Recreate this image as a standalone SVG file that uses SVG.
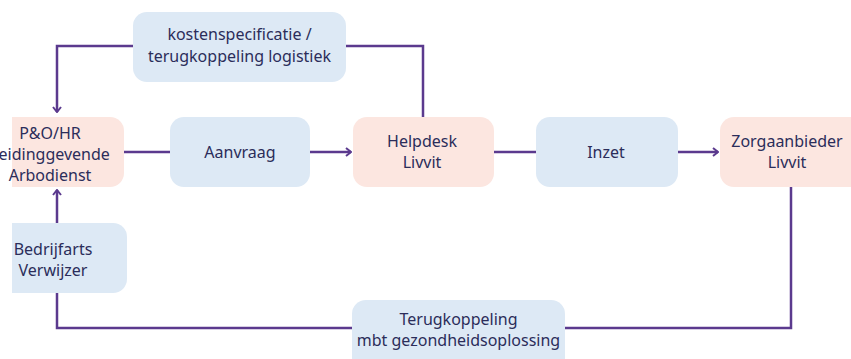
<svg xmlns="http://www.w3.org/2000/svg" width="851" height="359" viewBox="0 0 851 359">
<defs>
<style>
.blue{fill:#dde9f5}
.peach{fill:#fce6e0}
.t{font-family:"Noto Sans","Open Sans",sans-serif;font-size:16px;fill:#2b2d5a;text-anchor:middle}
.c{fill:none;stroke:#5b3a8e;stroke-width:2.5}
</style>
<marker id="ah" viewBox="0 0 10 10" refX="9" refY="5" markerWidth="10" markerHeight="10" markerUnits="userSpaceOnUse" orient="auto">
<path d="M4,1 L9,5 L4,9" fill="none" stroke="#5b3a8e" stroke-width="2"/>
</marker>
</defs>
<rect width="851" height="359" fill="#ffffff"/>
<g id="connectors">
<path class="c" d="M133,46 H57 V112" marker-end="url(#ah)"/>
<path class="c" d="M346,46 H423 V117"/>
<path class="c" d="M124,152 H170"/>
<path class="c" d="M310,152 H351" marker-end="url(#ah)"/>
<path class="c" d="M494,152 H536"/>
<path class="c" d="M678,152 H718" marker-end="url(#ah)"/>
<path class="c" d="M57,223 V190" marker-end="url(#ah)"/>
<path class="c" d="M57,293 V328 H353"/>
<path class="c" d="M565,328 H791 V187"/>
</g>
<g id="kosten">
<rect class="blue" x="133" y="12" width="213" height="70" rx="14"/>
<text class="t" x="239.5" y="40">kostenspecificatie /</text>
<text class="t" x="239.5" y="62">terugkoppeling logistiek</text>
</g>
<g id="po-hr">
<path class="peach" d="M12,117 H110 A14,14 0 0 1 124,131 V173 A14,14 0 0 1 110,187 H12 Z"/>
<text class="t" x="50" y="139">P&amp;O/HR</text>
<text class="t" x="50" y="160">Leidinggevende</text>
<text class="t" x="50" y="181">Arbodienst</text>
</g>
<g id="aanvraag">
<rect class="blue" x="170" y="117" width="140" height="70" rx="14"/>
<text class="t" x="240" y="158">Aanvraag</text>
</g>
<g id="helpdesk">
<rect class="peach" x="353" y="117" width="141" height="70" rx="14"/>
<text class="t" x="422" y="147">Helpdesk</text>
<text class="t" x="422" y="168">Livvit</text>
</g>
<g id="inzet">
<rect class="blue" x="536" y="117" width="142" height="70" rx="14"/>
<text class="t" x="606" y="158">Inzet</text>
</g>
<g id="zorgaanbieder">
<rect class="peach" x="720" y="117" width="150" height="70" rx="14"/>
<text class="t" x="787" y="147">Zorgaanbieder</text>
<text class="t" x="787" y="168">Livvit</text>
</g>
<g id="bedrijfarts">
<path class="blue" d="M12,223 H113 A14,14 0 0 1 127,237 V279 A14,14 0 0 1 113,293 H12 Z"/>
<text class="t" x="53" y="255">Bedrijfarts</text>
<text class="t" x="53" y="276">Verwijzer</text>
</g>
<g id="terugkoppeling">
<rect class="blue" x="352" y="300" width="213" height="75" rx="14"/>
<text class="t" x="458.5" y="325">Terugkoppeling</text>
<text class="t" x="458.5" y="346">mbt gezondheidsoplossing</text>
</g>
</svg>
